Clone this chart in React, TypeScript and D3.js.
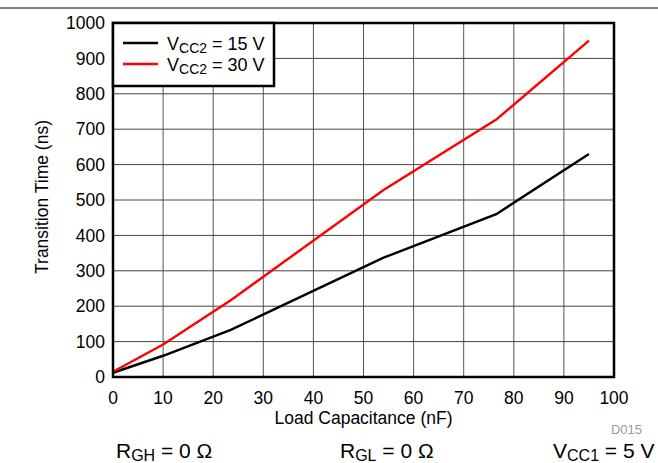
import React from "react";
import * as d3 from "d3";

const xTicks = [0, 10, 20, 30, 40, 50, 60, 70, 80, 90, 100];
const yTicks = [0, 100, 200, 300, 400, 500, 600, 700, 800, 900, 1000];
const capVcc15 = [0, 10, 23.5, 54, 76.5, 95];
const timeVcc15 = [12, 60, 133, 337, 460, 630];
const capVcc30 = [0, 10, 23.5, 54, 76.5, 95];
const timeVcc30 = [15, 92, 217, 528, 727, 950];
const seriesNames = ["15 V", "30 V"];
const seriesColors = ["#000000", "#ff0000"];

const W = 658;
const H = 463;
const L = 113, R = 614, T = 23, B = 377;
const font = "Arial, 'Liberation Sans', sans-serif";

export default function App() {
  const x = d3.scaleLinear().domain([0, 100]).range([L, R]);
  const y = d3.scaleLinear().domain([0, 1000]).range([B, T]);
  const line = d3
    .line<[number, number]>()
    .x((d) => x(d[0]))
    .y((d) => y(d[1]));
  const s15 = capVcc15.map((c, i) => [c, timeVcc15[i]] as [number, number]);
  const s30 = capVcc30.map((c, i) => [c, timeVcc30[i]] as [number, number]);
  const series = [s15, s30];

  return (
    <svg
      width={W}
      height={H}
      style={{ position: "absolute", left: 0, top: 0 }}
      fontFamily={font}
    >
      <rect x={0} y={0} width={W} height={H} fill="#fff" />
      <line x1={0} x2={W} y1={8} y2={8} stroke="#000" strokeWidth={1} />
      {/* grid */}
      {xTicks.map((t) => (
        <line key={"gx" + t} x1={x(t)} x2={x(t)} y1={T} y2={B} stroke="#555" strokeWidth={1} />
      ))}
      {yTicks.map((t) => (
        <line key={"gy" + t} x1={L} x2={R} y1={y(t)} y2={y(t)} stroke="#444" strokeWidth={1} />
      ))}
      {/* series */}
      {series.map((s, i) => (
        <path key={"s" + i} d={line(s) || ""} fill="none" stroke={seriesColors[i]} strokeWidth={2.4} />
      ))}
      {/* frame */}
      <rect x={L} y={T} width={R - L} height={B - T} fill="none" stroke="#000" strokeWidth={2.5} />
      {/* tick labels */}
      {yTicks.map((t) => (
        <text key={"ty" + t} x={105} y={y(t) + 6.2} textAnchor="end" fontSize={17.5} fill="#000">
          {t}
        </text>
      ))}
      {xTicks.map((t) => (
        <text key={"tx" + t} x={x(t)} y={403.5} textAnchor="middle" fontSize={17.5} fill="#000">
          {t}
        </text>
      ))}
      <text x={(L + R) / 2} y={423.5} textAnchor="middle" fontSize={17.5} fill="#000">
        Load Capacitance (nF)
      </text>
      <text
        transform={`translate(48,197) rotate(-90)`}
        textAnchor="middle"
        fontSize={17.5}
        fill="#000"
      >
        Transition Time (ns)
      </text>
      <text x={642} y={434} textAnchor="end" fontSize={13} fill="#999">
        D015
      </text>
      {/* legend */}
      <rect x={L} y={T} width={161} height={63} fill="#fff" stroke="#000" strokeWidth={2.5} />
      {seriesNames.map((n, i) => (
        <g key={"lg" + i}>
          <line x1={123} x2={158} y1={43 + i * 21} y2={43 + i * 21} stroke={seriesColors[i]} strokeWidth={2.4} />
          <text x={167} y={50 + i * 21} fontSize={18} fill="#000">
            V<tspan fontSize={14} dy={3}>CC2</tspan>
            <tspan dy={-3}>{" = " + n}</tspan>
          </text>
        </g>
      ))}
      {/* conditions */}
      <text x={116} y={458} fontSize={21} fill="#000">
        R<tspan fontSize={16} dy={3}>GH</tspan>
        <tspan dy={-3}> = 0 Ω</tspan>
      </text>
      <text x={340} y={458} fontSize={21} fill="#000">
        R<tspan fontSize={16} dy={3}>GL</tspan>
        <tspan dy={-3}> = 0 Ω</tspan>
      </text>
      <text x={553} y={458} fontSize={21} fill="#000">
        V<tspan fontSize={16} dy={3}>CC1</tspan>
        <tspan dy={-3}> = 5 V</tspan>
      </text>
    </svg>
  );
}
